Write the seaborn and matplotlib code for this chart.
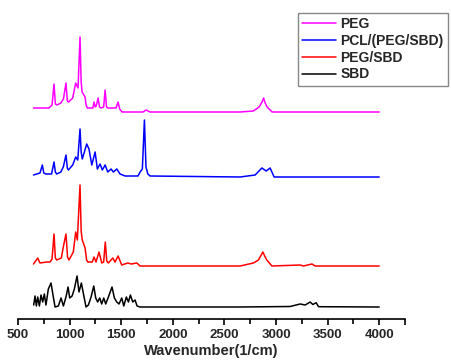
import numpy as np
import pandas as pd
import matplotlib
matplotlib.use("Agg")
import matplotlib.pyplot as plt
import seaborn as sns
from matplotlib.ticker import MultipleLocator

# FTIR spectra: wavenumber (1/cm) and band intensity above each trace's own baseline (a.u.)
peg_wn = [650, 800, 830, 849, 862, 878, 915, 940, 965, 978,
          990, 1030, 1059, 1082, 1101, 1112, 1121, 1150, 1160, 1172,
          1225, 1237, 1248, 1258, 1276, 1290, 1305, 1330, 1344, 1358,
          1373, 1450, 1470, 1485, 1508, 1712, 1741, 1780, 2650, 2780,
          2837, 2865, 2880, 2895, 2914, 2963, 4000]
peg_int = [4, 4, 7, 28, 8, 7, 9, 13, 29, 11,
           10, 14, 29, 24, 75, 30, 20, 15, 7, 4,
           4, 10, 5, 6, 14, 5, 4, 5, 22, 5,
           4, 4, 10, 3, 0, 0, 2, 0, 0, 1,
           5, 10, 14, 9, 5, 0, 0]

pcl_wn = [650, 713, 736, 750, 768, 825, 849, 862, 875, 915,
          939, 965, 978, 988, 1030, 1059, 1079, 1101, 1112, 1123,
          1166, 1188, 1215, 1247, 1269, 1295, 1317, 1344, 1370, 1402,
          1424, 1457, 1489, 1537, 1663, 1683, 1705, 1725, 1740, 1758,
          1780, 2652, 2798, 2863, 2905, 2943, 2982, 4000]
pcl_int = [2, 4, 12, 4, 3, 3, 15, 5, 3, 5,
           10, 22, 9, 7, 12, 20, 17, 48, 25, 18,
           33, 28, 12, 25, 8, 13, 7, 12, 5, 8,
           5, 8, 3, 1, 1, 5, 8, 57, 10, 3,
           1, 0, 2, 9, 6, 9, 0, 0]

pegsbd_wn = [650, 691, 713, 778, 810, 830, 849, 862, 875, 920,
             939, 965, 980, 994, 1036, 1059, 1075, 1101, 1112, 1123,
             1150, 1165, 1176, 1220, 1237, 1256, 1285, 1312, 1330, 1346,
             1360, 1376, 1418, 1440, 1470, 1505, 1564, 1596, 1651, 1683,
             2652, 2781, 2830, 2873, 2895, 2911, 2960, 3234, 3266, 3348,
             3380, 4000]
pegsbd_int = [2, 8, 3, 4, 4, 7, 32, 8, 6, 8,
              19, 32, 9, 6, 14, 34, 26, 81, 35, 26,
              18, 6, 4, 4, 9, 4, 14, 3, 4, 24,
              5, 3, 8, 4, 10, 1, 3, 2, 3, 0,
              0, 3, 6, 14, 9, 6, 0, 1, 0, 2,
              0, 0]

sbd_wn = [652, 665, 678, 691, 707, 723, 739, 755, 771, 794, 820, 839, 859, 891, 917, 940,
          965, 985, 1001, 1024, 1046, 1072, 1091, 1114, 1140, 1159, 1182, 1208, 1234, 1253,
          1272, 1292, 1311, 1331, 1350, 1376, 1411, 1434, 1457, 1479, 1505, 1525, 1550,
          1570, 1589, 1612, 1634, 1654, 1683, 2652, 3137, 3234, 3283, 3331, 3357, 3389,
          3412, 4000]
sbd_int = [2, 11, 1, 10, 1, 12, 5, 13, 2, 18, 24, 12, 0, 1, 9, 1,
           10, 20, 9, 11, 18, 31, 15, 24, 10, 0, 2, 10, 21, 9,
           5, 9, 3, 9, 3, 10, 20, 9, 5, 3, 9, 1, 10,
           5, 12, 5, 7, 1, 0, 0, 0.5, 3, 2, 5, 2.5, 4.3,
           0.3, 0]

names = ["PEG", "PCL/(PEG/SBD)", "PEG/SBD", "SBD"]
colors = ["#ff00ff", "#0000ff", "#ff0000", "#000000"]
# vertical stacking of the traces
offsets = [207, 142, 53, 12]

series = [(peg_wn, peg_int), (pcl_wn, pcl_int), (pegsbd_wn, pegsbd_int), (sbd_wn, sbd_int)]
frames = []
for name, (wn, inten), off in zip(names, series, offsets):
    frames.append(pd.DataFrame({"Wavenumber": wn,
                                "Intensity": np.asarray(inten, dtype=float) + off,
                                "Sample": name}))
df = pd.concat(frames, ignore_index=True)

sns.set_theme(style="ticks")
plt.rcParams["font.family"] = ["Liberation Sans", "DejaVu Sans"]
plt.rcParams["font.weight"] = "bold"

fig = plt.figure(figsize=(4.51, 3.60), dpi=100)
ax = fig.add_axes([18 / 451, 41 / 360, 387 / 451, 309 / 360])

sns.lineplot(data=df, x="Wavenumber", y="Intensity", hue="Sample",
             hue_order=names, palette=colors, linewidth=1.1,
             estimator=None, sort=False, ax=ax)

ax.set_xlim(500, 4250)
ax.set_ylim(0, 309)
ax.xaxis.set_minor_locator(MultipleLocator(250))
ax.set_xticks([500, 1000, 1500, 2000, 2500, 3000, 3500, 4000, 4250])
ax.set_xticklabels(["500", "1000", "1500", "2000", "2500", "3000", "3500", "4000", ""])
ax.tick_params(axis="x", which="major", direction="out", length=4.5, width=1.2,
               labelsize=9.5, pad=2.5, color="black")
ax.tick_params(axis="x", which="minor", direction="out", length=3.5, width=1.2, color="black")
for lab in ax.get_xticklabels():
    lab.set_fontweight("bold")
ax.set_yticks([])
ax.set_ylabel("")
ax.set_xlabel("Wavenumber(1/cm)", fontsize=10.5, fontweight="bold", labelpad=2)

for side in ["left", "top", "right"]:
    ax.spines[side].set_visible(False)
ax.spines["bottom"].set_linewidth(1.2)
ax.spines["bottom"].set_color("black")

ax.get_legend().remove()
handles, labels = ax.get_legend_handles_labels()
leg = fig.legend(handles, labels, loc="upper right",
                 bbox_to_anchor=(448 / 451, 1 - 13 / 360), bbox_transform=fig.transFigure,
                 borderaxespad=0, fancybox=False, frameon=True, framealpha=1,
                 edgecolor="#888888", prop={"size": 10, "weight": "bold"},
                 handlelength=2.4, handletextpad=0.35, labelspacing=0.2,
                 borderpad=0.3)
leg.get_frame().set_linewidth(1.0)
for line in leg.get_lines():
    line.set_linewidth(1.1)

fig.savefig("out.png", dpi=100)
